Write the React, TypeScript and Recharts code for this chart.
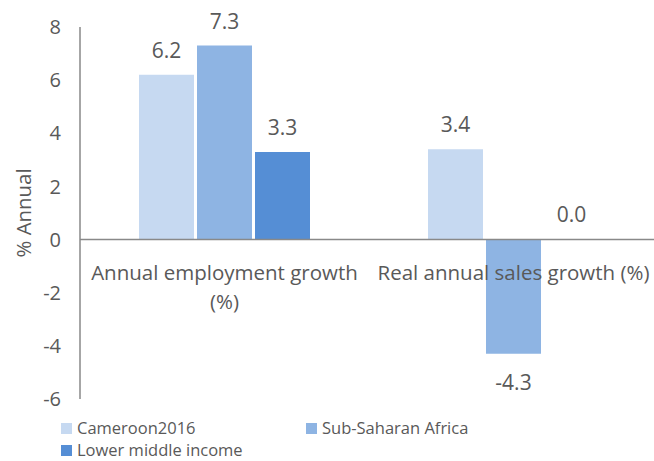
import React from 'react';
import { BarChart, Bar, XAxis, YAxis, ReferenceLine, LabelList } from 'recharts';

const categories = ['Annual employment growth (%)', 'Real annual sales growth (%)'];
const cameroon = [6.2, 3.4];
const subSaharan = [7.3, -4.3];
const lowerMiddle = [3.3, 0.02];
const yTicks = [-6, -4, -2, 0, 2, 4, 6, 8];

const seriesNames = ['Cameroon2016', 'Sub-Saharan Africa', 'Lower middle income'];
const colors = ['#c6d9f1', '#8eb4e3', '#558ed5'];

const data = categories.map((name, i) => ({
  name,
  cameroon: cameroon[i],
  subSaharan: subSaharan[i],
  lowerMiddle: lowerMiddle[i],
}));

const FONT = '"Open Sans", sans-serif';
const TEXT = '#595959';
const AXIS = '#898989';
const W = 654;
const H = 461;
const CAT_SIZE = 20.5;

let ctx: CanvasRenderingContext2D | null = null;
const measure = (s: string) => {
  if (!ctx) ctx = document.createElement('canvas').getContext('2d');
  if (!ctx) return s.length * CAT_SIZE * 0.5;
  ctx.font = `${CAT_SIZE}px "Open Sans"`;
  return ctx.measureText(s).width;
};

// greedy word wrap, like Excel does for long category names
const wrap = (label: string, maxW: number) => {
  const lines: string[] = [];
  let cur = '';
  label.split(' ').forEach((w) => {
    const next = cur ? `${cur} ${w}` : w;
    if (cur && measure(next) > maxW) {
      lines.push(cur);
      cur = w;
    } else {
      cur = next;
    }
  });
  if (cur) lines.push(cur);
  return lines;
};

const box = (props: any) => {
  const vb = props.viewBox || props;
  const top = Math.min(vb.y, vb.y + vb.height);
  const bottom = Math.max(vb.y, vb.y + vb.height);
  return { cx: vb.x + vb.width / 2, top, bottom };
};

// value labels: outside end, above positives, below negatives
const renderValue = (props: any) => {
  const { cx, top, bottom } = box(props);
  const v = Number(props.value);
  if (v < 0) {
    return (
      <text x={cx} y={bottom + 21} dy="0.71em" textAnchor="middle" fill={TEXT} fontSize={21} fontFamily={FONT}>
        {v.toFixed(1)}
      </text>
    );
  }
  return (
    <text x={cx} y={top - 17} textAnchor="middle" fill={TEXT} fontSize={21} fontFamily={FONT}>
      {v.toFixed(1)}
    </text>
  );
};

// category names hang under the zero line, centred on the middle bar of each group
const renderCategory = (props: any) => {
  const { cx, top, bottom } = box(props);
  const zeroY = subSaharan[props.index] < 0 ? top : bottom;
  const lines = wrap(String(props.value), 285);
  return (
    <text x={cx} y={zeroY + 40} textAnchor="middle" fill={TEXT} fontSize={CAT_SIZE} fontFamily={FONT}>
      {lines.map((l, i) => (
        <tspan key={i} x={cx} dy={i === 0 ? 0 : 29}>
          {l}
        </tspan>
      ))}
    </text>
  );
};

const renderYLabel = (props: any) => {
  const vb = props.viewBox;
  const cy = vb.y + vb.height / 2;
  const cx = 23;
  return (
    <text
      x={cx}
      y={cy}
      transform={`rotate(-90, ${cx}, ${cy})`}
      textAnchor="middle"
      dominantBaseline="central"
      fill={TEXT}
      fontSize={20.4}
      fontFamily={FONT}
    >
      % Annual
    </text>
  );
};

export default function App() {
  return (
    <div style={{ position: 'relative', width: W, height: H, fontFamily: FONT }}>
      <style>{'html, body { margin: 0; padding: 0; overflow: hidden; }'}</style>
      <BarChart width={W} height={H} data={data} margin={{ top: 27, right: -4, left: 0, bottom: 62 }} barGap={3} barSize={55}>
        <XAxis dataKey="name" hide />
        <YAxis
          width={80}
          domain={[-6, 8]}
          ticks={yTicks}
          tickLine={false}
          tickSize={0}
          tickMargin={19}
          axisLine={{ stroke: AXIS, strokeWidth: 1.5 }}
          tick={{ fill: TEXT, fontSize: 20, fontFamily: FONT }}
          label={{ content: renderYLabel }}
        />
        <ReferenceLine y={0} stroke={AXIS} strokeWidth={1.5} />
        <Bar dataKey="cameroon" name={seriesNames[0]} fill={colors[0]} isAnimationActive={false}>
          <LabelList dataKey="cameroon" content={renderValue} />
        </Bar>
        <Bar dataKey="subSaharan" name={seriesNames[1]} fill={colors[1]} isAnimationActive={false}>
          <LabelList dataKey="subSaharan" content={renderValue} />
          <LabelList dataKey="name" content={renderCategory} />
        </Bar>
        <Bar dataKey="lowerMiddle" name={seriesNames[2]} fill={colors[2]} isAnimationActive={false}>
          <LabelList dataKey="lowerMiddle" content={renderValue} />
        </Bar>
      </BarChart>
      <div
        style={{
          position: 'absolute',
          left: 61,
          top: 417,
          display: 'grid',
          gridTemplateColumns: '245px 245px',
          color: TEXT,
          fontSize: 16.5,
          lineHeight: '22px',
        }}
      >
        {seriesNames.map((s, i) => (
          <div key={s} style={{ display: 'flex', alignItems: 'center', whiteSpace: 'nowrap' }}>
            <span style={{ display: 'inline-block', width: 11, height: 11, background: colors[i], marginRight: 5 }} />
            {s}
          </div>
        ))}
      </div>
    </div>
  );
}
